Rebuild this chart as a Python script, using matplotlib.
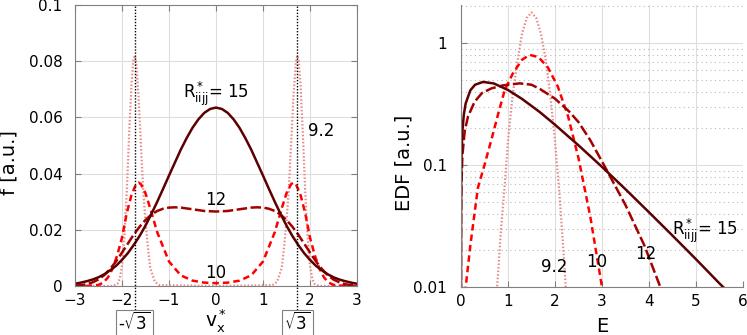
import numpy as np
import matplotlib.pyplot as plt
from matplotlib.ticker import NullFormatter
import matplotlib.transforms as mtransforms

# left panel: velocity distributions f(v*_x)
v_grid = [-3.0, -2.875, -2.75, -2.625, -2.5, -2.375, -2.25, -2.125, -2.0, -1.875, -1.75, -1.625,
          -1.5, -1.375, -1.25, -1.125, -1.0, -0.875, -0.75, -0.625, -0.5, -0.375, -0.25, -0.125, 0.0,
          0.125, 0.25, 0.375, 0.5, 0.625, 0.75, 0.875, 1.0, 1.125, 1.25, 1.375, 1.5, 1.625, 1.75,
          1.875, 2.0, 2.125, 2.25, 2.375, 2.5, 2.625, 2.75, 2.875, 3.0]
f15 = [0.0008, 0.0012, 0.0017, 0.0023, 0.0031, 0.0042, 0.0056, 0.0072, 0.0093, 0.0117, 0.0146, 0.0178,
       0.0215, 0.0256, 0.0300, 0.0346, 0.0393, 0.0439, 0.0485, 0.0526, 0.0563, 0.0593, 0.0616, 0.0630,
       0.0635,
       0.0630, 0.0616, 0.0593, 0.0563, 0.0526, 0.0485, 0.0439, 0.0393, 0.0346, 0.0300, 0.0256, 0.0215,
       0.0178, 0.0146, 0.0117, 0.0093, 0.0072, 0.0056, 0.0042, 0.0031, 0.0023, 0.0017, 0.0012, 0.0008]
f12 = [0.0001, 0.0003, 0.0006, 0.0013, 0.0023, 0.0039, 0.0061, 0.0088, 0.0119, 0.0151, 0.0183, 0.0211,
       0.0235, 0.0254, 0.0267, 0.0275, 0.0279, 0.0280, 0.0279, 0.0276, 0.0273, 0.0270, 0.0267, 0.0266,
       0.0265,
       0.0266, 0.0267, 0.0270, 0.0273, 0.0276, 0.0279, 0.0280, 0.0279, 0.0275, 0.0267, 0.0254, 0.0235,
       0.0211, 0.0183, 0.0151, 0.0119, 0.0088, 0.0061, 0.0039, 0.0023, 0.0013, 0.0006, 0.0003, 0.0001]

v10 = [-3.0, -2.75, -2.5, -2.4, -2.3, -2.2, -2.1, -2.0, -1.9, -1.8, -1.7, -1.65, -1.6, -1.5, -1.4, -1.25,
       -1.0, -0.75, -0.5, -0.25, 0.0, 0.25, 0.5, 0.75, 1.0, 1.25, 1.4, 1.5, 1.6, 1.65, 1.7, 1.8, 1.9,
       2.0, 2.1, 2.2, 2.3, 2.4, 2.5, 2.75, 3.0]
f10 = [0.0, 0.0, 0.0004, 0.0012, 0.0030, 0.0062, 0.0110, 0.0172, 0.0258, 0.0323, 0.0363, 0.0368, 0.0363,
       0.0330, 0.0277, 0.0191, 0.0087, 0.0038, 0.0019, 0.0012, 0.0010, 0.0012, 0.0019, 0.0038, 0.0087,
       0.0191, 0.0277, 0.0330, 0.0363, 0.0368, 0.0363, 0.0323, 0.0258, 0.0172, 0.0110, 0.0062, 0.0030,
       0.0012, 0.0004, 0.0, 0.0]

v92 = [-3.0, -2.2, -2.1, -2.05, -2.0, -1.95, -1.9, -1.85, -1.8, -1.76, -1.73, -1.7, -1.65, -1.6, -1.55,
       -1.5, -1.45, -1.4, -1.3, -1.2, 0.0, 1.2, 1.3, 1.4, 1.45, 1.5, 1.55, 1.6, 1.65, 1.7, 1.73, 1.76,
       1.8, 1.85, 1.9, 1.95, 2.0, 2.05, 2.1, 2.2, 3.0]
f92 = [0.0, 0.0, 0.0007, 0.0024, 0.0072, 0.0171, 0.0332, 0.0531, 0.0713, 0.0801, 0.082, 0.0796, 0.068,
       0.0512, 0.0344, 0.023, 0.014, 0.0065, 0.0015, 0.0003, 0.0, 0.0003, 0.0015, 0.0065, 0.014, 0.023,
       0.0344, 0.0512, 0.068, 0.0796, 0.082, 0.0801, 0.0713, 0.0531, 0.0332, 0.0171, 0.0072, 0.0024,
       0.0007, 0.0, 0.0]

# right panel: energy distributions EDF(E)
E15 = [0.0, 0.0002, 0.001, 0.004, 0.01, 0.03, 0.06, 0.1, 0.2, 0.3, 0.47, 0.7, 1.0, 1.3, 1.68, 2.0,
       2.5, 3.0, 3.5, 4.0, 4.5, 5.0, 5.5, 5.7]
edf15 = [0.001, 0.0158, 0.0354, 0.0705, 0.111, 0.188, 0.258, 0.320, 0.410, 0.455, 0.480, 0.466, 0.412,
         0.348, 0.271, 0.214, 0.145, 0.0966, 0.0633, 0.041, 0.0264, 0.0169, 0.0107, 0.0090]
E12 = [0.0, 0.0005, 0.003, 0.01, 0.03, 0.08, 0.15, 0.29, 0.45, 0.65, 0.9, 1.25, 1.5, 1.68, 2.0, 2.3,
       2.5, 2.75, 3.1, 3.5, 3.9, 4.25, 4.4]
edf12 = [0.001, 0.016, 0.035, 0.07, 0.12, 0.19, 0.25, 0.33, 0.39, 0.425, 0.45, 0.467, 0.455, 0.42, 0.35,
         0.275, 0.225, 0.16, 0.091, 0.047, 0.022, 0.0098, 0.007]
E10 = [0.05, 0.1, 0.2, 0.36, 0.5, 0.645, 0.8, 0.93, 1.1, 1.3, 1.46, 1.65, 1.85, 2.06, 2.28, 2.5, 2.75,
       3.0, 3.1]
edf10 = [0.006, 0.010, 0.022, 0.065, 0.10, 0.16, 0.27, 0.41, 0.56, 0.73, 0.80, 0.766, 0.63, 0.44, 0.25,
         0.114, 0.038, 0.010, 0.0058]
E92 = [0.7, 0.77, 0.85, 0.93, 1.0, 1.1, 1.2, 1.3, 1.4, 1.5, 1.6, 1.7, 1.8, 1.9, 2.0, 2.1, 2.2, 2.3]
edf92 = [0.0035, 0.010, 0.029, 0.068, 0.157, 0.376, 0.70, 1.2, 1.61, 1.78, 1.61, 1.2, 0.74, 0.376,
         0.157, 0.055, 0.0152, 0.0035]

c15 = "#5c0000"
c12 = "#a30000"
c10 = "#ff0000"
c92 = "#e88a8a"
lw = 1.8
st15 = dict(color=c15, lw=lw)
st12 = dict(color=c12, lw=lw, dashes=(4.2, 1.4))
st10 = dict(color=c10, lw=lw, dashes=(2.6, 1.6))
st92 = dict(color=c92, lw=1.6, dashes=(0.7, 0.9))
spine_col = "#808080"
grid_col = "#dedede"

fig = plt.figure(figsize=(7.47, 3.35), dpi=100)
ax1 = fig.add_axes([0.1004, 0.1463, 0.3775, 0.8388])
ax2 = fig.add_axes([0.6171, 0.1433, 0.3775, 0.8418])

# ---- left panel
ax1.plot(v92, f92, **st92)
ax1.plot(v10, f10, **st10)
ax1.plot(v_grid, f12, **st12)
ax1.plot(v_grid, f15, **st15)
ax1.set_xlim(-3, 3)
ax1.set_ylim(0, 0.1)
ax1.set_xticks(range(-3, 4))
ax1.set_yticks([0, 0.02, 0.04, 0.06, 0.08, 0.1])
ax1.set_yticklabels(["0", "0.02", "0.04", "0.06", "0.08", "0.1"])
ax1.grid(color=grid_col, lw=0.8)
ax1.set_axisbelow(True)
ax1.tick_params(direction="in", top=True, right=True, color=spine_col, length=4,
                labelsize=11)
ax1.tick_params(axis="y", pad=9)
ax1.tick_params(axis="x", pad=5)
for s in ax1.spines.values():
    s.set_color(spine_col)
ax1.set_ylabel("f [a.u.]", fontsize=14)
ax1.yaxis.set_label_coords(-0.2, 0.44)
ax1.set_xlabel(r"$\mathregular{v^*_x}$", fontsize=13.5)
ax1.xaxis.set_label_coords(0.5, -0.075)

trans = mtransforms.blended_transform_factory(ax1.transData, ax1.transAxes)
for xv, lab in [(-np.sqrt(3), r"-$\sqrt{3}$"), (np.sqrt(3), r"$\sqrt{3}$")]:
    ax1.axvline(xv, ymin=-0.096, ymax=1.0, color="black", lw=1.0, ls=(0, (1, 1.2)),
                clip_on=False)
    ax1.text(xv, -0.132, lab, transform=trans, ha="center", va="center", fontsize=12,
             bbox=dict(boxstyle="square,pad=0.12", fc="white", ec=spine_col, lw=0.8))

ax1.text(0.0, 0.067, r"$\mathregular{R^*_{iijj}}$= 15", ha="center", va="baseline", fontsize=12)
ax1.text(2.23, 0.0552, "9.2", ha="center", va="center", fontsize=12)
ax1.text(0.0, 0.0306, "12", ha="center", va="center", fontsize=12)
ax1.text(0.0, 0.0048, "10", ha="center", va="center", fontsize=12)

# ---- right panel
ax2.plot(E92, edf92, **st92)
ax2.plot(E10, edf10, **st10)
ax2.plot(E12, edf12, **st12)
ax2.plot(E15, edf15, **st15)
ax2.set_yscale("log")
ax2.set_xlim(0, 6)
ax2.set_ylim(0.01, 2.05)
ax2.set_xticks(range(0, 7))
ax2.set_yticks([0.01, 0.1, 1])
ax2.set_yticklabels(["0.01", "0.1", "1"])
ax2.yaxis.set_minor_formatter(NullFormatter())
ax2.grid(which="major", color=grid_col, lw=0.8)
ax2.grid(which="minor", axis="y", color="#b8b8b8", lw=0.8, ls=(0, (1, 3)))
ax2.set_axisbelow(True)
ax2.tick_params(direction="in", color=spine_col, length=4, labelsize=11)
ax2.tick_params(which="minor", length=0)
ax2.tick_params(axis="y", pad=10)
ax2.tick_params(axis="x", pad=5)
ax2.spines["top"].set_visible(False)
ax2.spines["right"].set_visible(False)
ax2.spines["left"].set_color(spine_col)
ax2.spines["bottom"].set_color(spine_col)
ax2.set_ylabel("EDF [a.u.]", fontsize=14)
ax2.yaxis.set_label_coords(-0.17, 0.44)
ax2.set_xlabel("E", fontsize=14)
ax2.xaxis.set_label_coords(0.5, -0.105)

ax2.text(5.2, 0.0267, r"$\mathregular{R^*_{iijj}}$= 15", ha="center", va="baseline", fontsize=12)
ax2.text(3.93, 0.0186, "12", ha="center", va="center", fontsize=12)
ax2.text(2.89, 0.016, "10", ha="center", va="center", fontsize=12)
ax2.text(1.99, 0.0147, "9.2", ha="center", va="center", fontsize=12)

fig.savefig("out.png", dpi=100)
